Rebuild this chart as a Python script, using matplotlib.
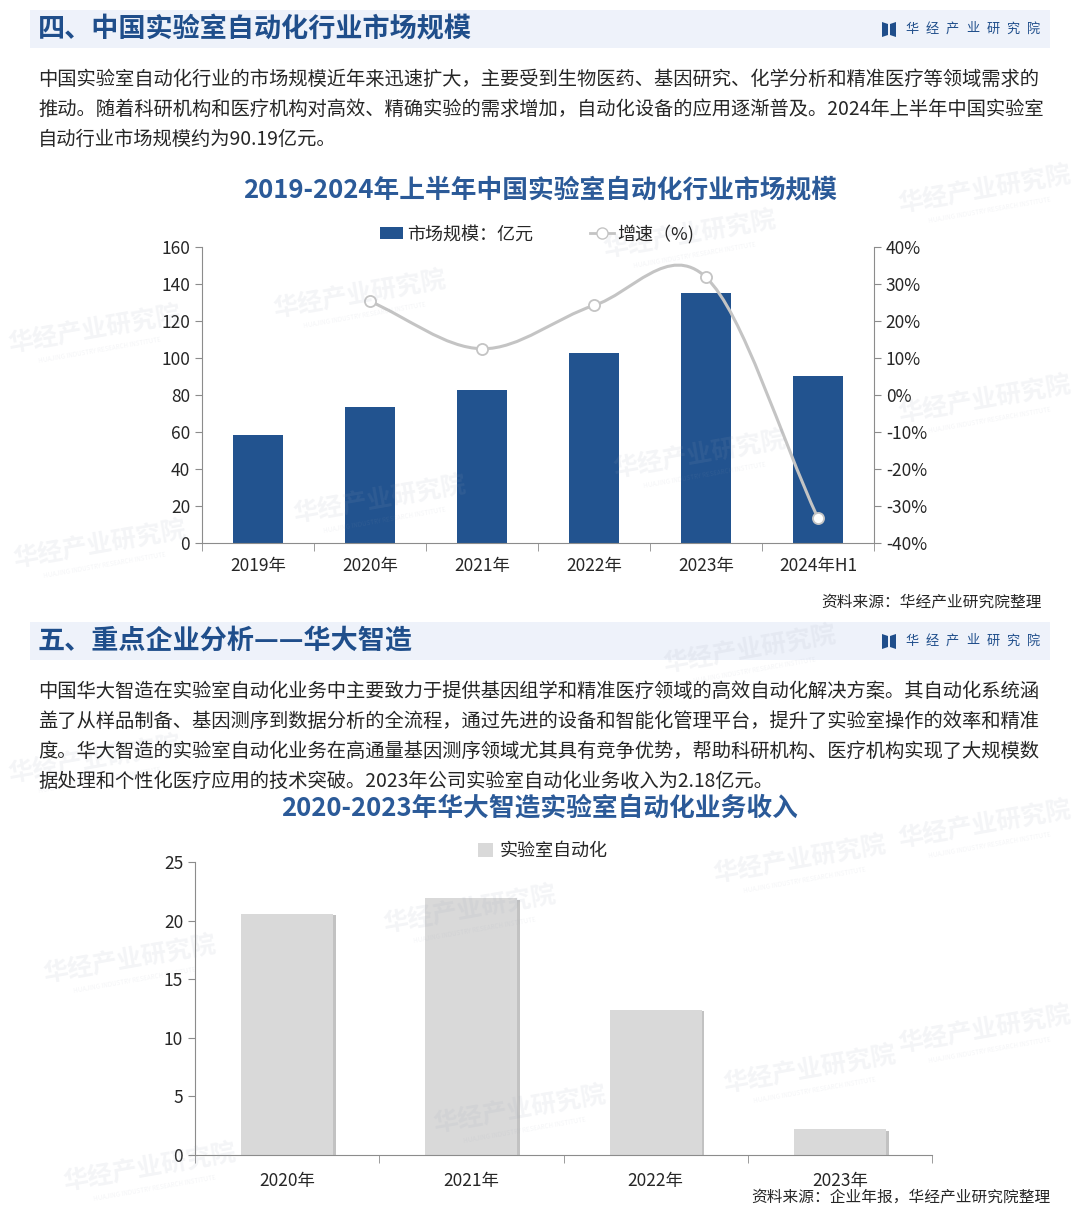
import numpy as np
import matplotlib
matplotlib.use("Agg")
import matplotlib.pyplot as plt
from matplotlib.path import Path
from matplotlib.patches import PathPatch, Rectangle, Polygon
from matplotlib.lines import Line2D
import matplotlib.patheffects as pe

plt.rcParams['font.family'] = ['Noto Sans CJK SC', 'DejaVu Sans']

# ---------------------------------------------------------------
# DATOS
# ---------------------------------------------------------------
years1 = ["2019年", "2020年", "2021年", "2022年", "2023年", "2024年H1"]
market = [58.6, 73.4, 82.6, 102.6, 135.2, 90.19]
growth = [25.3, 12.5, 24.2, 31.8, -33.3]          # 2020 .. 2024H1
left_ticks1 = [0, 20, 40, 60, 80, 100, 120, 140, 160]
right_ticks1 = [-40, -30, -20, -10, 0, 10, 20, 30, 40]

years2 = ["2020年", "2021年", "2022年", "2023年"]
revenue = [20.6, 21.9, 12.4, 2.18]
left_ticks2 = [0, 5, 10, 15, 20, 25]

para1 = [
    "中国实验室自动化行业的市场规模近年来迅速扩大，主要受到生物医药、基因研究、化学分析和精准医疗等领域需求的",
    "推动。随着科研机构和医疗机构对高效、精确实验的需求增加，自动化设备的应用逐渐普及。2024年上半年中国实验室",
    "自动行业市场规模约为90.19亿元。",
]
para2 = [
    "中国华大智造在实验室自动化业务中主要致力于提供基因组学和精准医疗领域的高效自动化解决方案。其自动化系统涵",
    "盖了从样品制备、基因测序到数据分析的全流程，通过先进的设备和智能化管理平台，提升了实验室操作的效率和精准",
    "度。华大智造的实验室自动化业务在高通量基因测序领域尤其具有竞争优势，帮助科研机构、医疗机构实现了大规模数",
    "据处理和个性化医疗应用的技术突破。2023年公司实验室自动化业务收入为2.18亿元。",
]
logo_name = "华经产业研究院"

W, H = 1080, 1215
BLUE = '#22538f'
TITLE_BLUE = '#2b5a98'
HEAD_BLUE = '#1f4e8b'
AXIS_GRAY = '#8c8c8c'
TXT = '#262626'

fig = plt.figure(figsize=(W / 100, H / 100), dpi=100)
fig.patch.set_facecolor('white')


def fx(x):
    return x / W


def fy(y):
    return 1 - y / H


def axes_px(x0, y0, x1, y1):
    return fig.add_axes([fx(x0), fy(y1), (x1 - x0) / W, (y1 - y0) / H])


# marcas de agua
wm = [(360, 295), (690, 235), (95, 330), (985, 190), (700, 455), (380, 500),
      (100, 545), (985, 400), (750, 650), (95, 760), (800, 860), (130, 960),
      (470, 910), (810, 1070), (520, 1110), (150, 1168), (985, 1030), (985, 825)]
for (x, y) in wm:
    fig.text(fx(x), fy(y), "华经产业研究院", fontsize=18, fontweight='bold',
             color='#9aa3b5', alpha=0.11, rotation=10, ha='center', va='center')
    fig.text(fx(x + 5), fy(y + 20), "HUAJING INDUSTRY RESEARCH INSTITUTE", fontsize=4.5,
             color='#9aa3b5', alpha=0.11, rotation=10, ha='center', va='center')


def header(ytop, ybot, title):
    fig.patches.append(Rectangle((fx(30), fy(ybot)), fx(1050) - fx(30), fy(ytop) - fy(ybot),
                                 transform=fig.transFigure, facecolor='#eef2fa',
                                 edgecolor='none', zorder=0))
    ym = (ytop + ybot) / 2
    fig.text(fx(38), fy(ym), title, fontsize=19.5, fontweight='bold', color=HEAD_BLUE,
             ha='left', va='center')
    # logo
    fig.patches.append(Polygon([(fx(882), fy(ym - 7)), (fx(888), fy(ym - 5)),
                                (fx(888), fy(ym + 6)), (fx(882), fy(ym + 8))],
                               closed=True, transform=fig.transFigure,
                               facecolor=HEAD_BLUE, edgecolor='none'))
    fig.patches.append(Polygon([(fx(890), fy(ym - 5)), (fx(896), fy(ym - 7)),
                                (fx(896), fy(ym + 8)), (fx(890), fy(ym + 6))],
                               closed=True, transform=fig.transFigure,
                               facecolor=HEAD_BLUE, edgecolor='none'))
    for k, ch in enumerate(logo_name):
        fig.text(fx(905 + 20.3 * k), fy(ym), ch, fontsize=9.5, color=HEAD_BLUE,
                 ha='left', va='center')


header(10, 48, "四、中国实验室自动化行业市场规模")
for i, line in enumerate(para1):
    fig.text(fx(38), fy(79 + 30 * i), line, fontsize=13.9, color=TXT, ha='left', va='center')

fig.text(fx(540), fy(190), "2019-2024年上半年中国实验室自动化行业市场规模", fontsize=18.5,
         fontweight='bold', color=TITLE_BLUE, ha='center', va='center')

# ---------------------------------------------------------------
# GRAFICO 1
# ---------------------------------------------------------------
ax1 = axes_px(202, 247, 874, 543)
x1 = np.arange(len(years1))
ax1.bar(x1, market, width=0.45, color=BLUE, zorder=2)
ax1.set_xlim(-0.5, len(years1) - 0.5)
ax1.set_ylim(0, 160)
ax1.set_yticks(left_ticks1)
ax1.set_xticks(x1)
ax1.set_xticklabels(years1)
ax1.set_xticks(np.arange(-0.5, len(years1)), minor=True)
ax1.tick_params(axis='x', which='major', length=0, labelsize=12.5, pad=10, labelcolor=TXT)
ax1.tick_params(axis='x', which='minor', length=6, color=AXIS_GRAY, direction='out')
ax1.tick_params(axis='y', length=5, color=AXIS_GRAY, labelsize=12.5, labelcolor=TXT)
for s in ['top', 'right']:
    ax1.spines[s].set_visible(False)
for s in ['left', 'bottom']:
    ax1.spines[s].set_color(AXIS_GRAY)
ax1.patch.set_alpha(0)

ax2 = ax1.twinx()
ax2.set_ylim(-40, 40)
ax2.set_yticks(right_ticks1)
ax2.set_yticklabels([f"{v}%" for v in right_ticks1])
ax2.tick_params(axis='y', length=5, color=AXIS_GRAY, labelsize=12.5, labelcolor=TXT)
for s in ['top', 'left', 'bottom']:
    ax2.spines[s].set_visible(False)
ax2.spines['right'].set_color(AXIS_GRAY)

# linea suavizada (Bezier tipo Catmull-Rom, como Excel)
gx = x1[1:].astype(float)
gy = np.array(growth, dtype=float)
n = len(gx)
tang = np.zeros(n)
for i in range(n):
    a = max(i - 1, 0)
    b = min(i + 1, n - 1)
    tang[i] = (gy[b] - gy[a]) / (gx[b] - gx[a]) if i in (0, n - 1) else (gy[b] - gy[a]) / 2
verts = [(gx[0], gy[0])]
codes = [Path.MOVETO]
for i in range(n - 1):
    verts += [(gx[i] + 1 / 3, gy[i] + tang[i] / 3),
              (gx[i + 1] - 1 / 3, gy[i + 1] - tang[i + 1] / 3),
              (gx[i + 1], gy[i + 1])]
    codes += [Path.CURVE4] * 3
ax2.add_patch(PathPatch(Path(verts, codes), facecolor='none', edgecolor='#c4c4c4',
                        lw=2.2, zorder=3))
ax2.plot(gx, gy, linestyle='none', marker='o', ms=8, mfc='white', mec='#c4c4c4',
         mew=1.3, zorder=4)

h1 = Rectangle((0, 0), 1, 1, facecolor=BLUE, edgecolor='none')
h2 = Line2D([], [], color='#c4c4c4', lw=2, marker='o', ms=8, mfc='white', mec='#c4c4c4')
fig.legend([h1, h2], ["市场规模：亿元", "增速（%)"], loc='center',
           bbox_to_anchor=(fx(537), fy(234)), ncol=2, frameon=False, fontsize=13,
           handlelength=1.3, handletextpad=0.2, columnspacing=3.2, labelcolor=TXT)

fig.text(fx(1042), fy(602), "资料来源：华经产业研究院整理", fontsize=11.3, color=TXT,
         ha='right', va='center')

header(622, 660, "五、重点企业分析——华大智造")
for i, line in enumerate(para2):
    fig.text(fx(38), fy(691 + 30 * i), line, fontsize=13.9, color=TXT, ha='left', va='center')

fig.text(fx(540), fy(808), "2020-2023年华大智造实验室自动化业务收入", fontsize=18.5,
         fontweight='bold', color=TITLE_BLUE, ha='center', va='center')

# ---------------------------------------------------------------
# GRAFICO 2
# ---------------------------------------------------------------
ax3 = axes_px(195, 862, 932, 1155)
x2 = np.arange(len(years2))
ax3.bar(x2, revenue, width=0.5, color='#d9d9d9', zorder=2,
        path_effects=[pe.SimplePatchShadow(offset=(2, -1), shadow_rgbFace='#9a9a9a', alpha=0.6),
                      pe.Normal()])
ax3.set_xlim(-0.5, len(years2) - 0.5)
ax3.set_ylim(0, 25)
ax3.set_yticks(left_ticks2)
ax3.set_xticks(x2)
ax3.set_xticklabels(years2)
ax3.set_xticks(np.arange(-0.5, len(years2)), minor=True)
ax3.tick_params(axis='x', which='major', length=0, labelsize=12.5, pad=12, labelcolor=TXT)
ax3.tick_params(axis='x', which='minor', length=6, color=AXIS_GRAY, direction='out')
ax3.tick_params(axis='y', length=5, color=AXIS_GRAY, labelsize=12.5, labelcolor=TXT)
for s in ['top', 'right']:
    ax3.spines[s].set_visible(False)
for s in ['left', 'bottom']:
    ax3.spines[s].set_color(AXIS_GRAY)
ax3.patch.set_alpha(0)

h3 = Rectangle((0, 0), 1, 1, facecolor='#d9d9d9', edgecolor='none')
fig.legend([h3], ["实验室自动化"], loc='center', bbox_to_anchor=(fx(543), fy(851)),
           frameon=False, fontsize=13, handlelength=0.8, handleheight=0.8,
           handletextpad=0.4, labelcolor=TXT)

fig.text(fx(1050), fy(1197), "资料来源：企业年报，华经产业研究院整理", fontsize=11.3, color=TXT,
         ha='right', va='center')

fig.savefig("out.png", dpi=100)
